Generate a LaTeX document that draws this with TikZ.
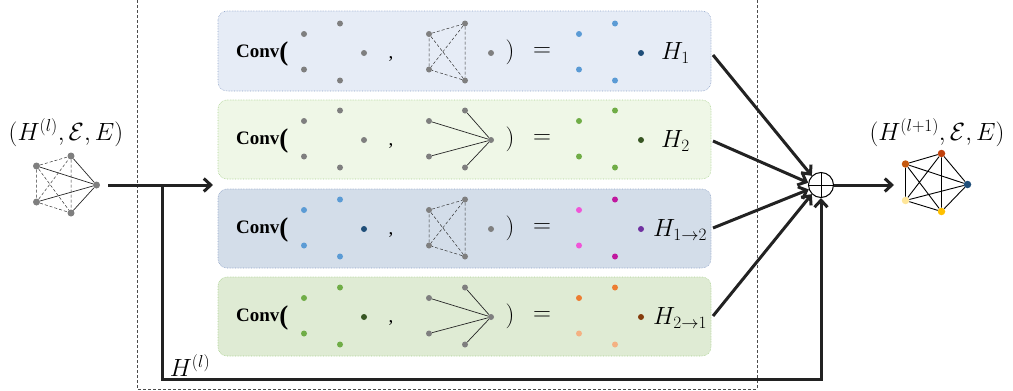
\documentclass[tikz,border=0pt]{standalone}
\usepackage{fontspec}
\usepackage{amsmath}
\newfontfamily\convfont{Liberation Serif}
\usetikzlibrary{arrows.meta,calc}
\definecolor{gdot}{HTML}{7F7F7F}
\definecolor{bdot}{HTML}{5B9BD5}
\definecolor{navy}{HTML}{1F4E79}
\definecolor{gr}{HTML}{70AD47}
\definecolor{dgr}{HTML}{375623}
\definecolor{pk}{HTML}{F055D8}
\definecolor{mg}{HTML}{C0189F}
\definecolor{pu}{HTML}{7030A0}
\definecolor{orr}{HTML}{ED7D31}
\definecolor{lor}{HTML}{F4B183}
\definecolor{br}{HTML}{843C0C}
\definecolor{fillA}{HTML}{E6ECF6}
\definecolor{fillB}{HTML}{EFF7E7}
\definecolor{fillC}{HTML}{D3DDE9}
\definecolor{fillD}{HTML}{DFEBD4}
\definecolor{edgeA}{HTML}{8FA3C8}
\definecolor{edgeB}{HTML}{A9D18E}
\definecolor{lc}{HTML}{222222}
\definecolor{oc1}{HTML}{C55A11}
\definecolor{oc2}{HTML}{C0410C}
\definecolor{oc4}{HTML}{FFC000}
\definecolor{oc5}{HTML}{FFE699}
\tikzset{
  dotn/.style={circle,fill=#1,inner sep=0pt,minimum size=6pt},
  gnode/.style={circle,fill=gdot,inner sep=0pt,minimum size=7pt},
  cnode/.style={circle,fill=#1,inner sep=0pt,minimum size=7.5pt},
  panel/.style={draw=#1,densely dotted,rounded corners=9pt,line width=0.6pt},
  flow/.style={draw=lc,line width=3pt,-{Straight Barb[length=7pt,width=13pt,line width=3pt]}},
  flowplain/.style={draw=lc,line width=3pt},
  conv/.style={inner sep=0pt,font=\convfont\bfseries\fontsize{19}{22}\selectfont},
  mtxt/.style={inner sep=0pt,font=\fontsize{24}{28}\selectfont},
  btxt/.style={inner sep=0pt,font=\fontsize{28}{30}\selectfont},
  ltxt/.style={inner sep=0pt,font=\fontsize{25}{28}\selectfont},
}
\begin{document}
\begin{tikzpicture}[x=1pt,y=-1pt]
\useasboundingbox (0,0) rectangle (1013,391);
% outer dashed frame
\draw[densely dashed,line width=0.5pt,black!70] (137,-5) rectangle (757,389);

% panels
\path[panel=edgeA,fill=fillA] (218,11) rectangle (711,91);
\path[panel=edgeB,fill=fillB] (218,100) rectangle (711,179);
\path[panel=edgeA,fill=fillC] (218,189) rectangle (711,268);
\path[panel=edgeB,fill=fillD] (218,277) rectangle (711,356);

\foreach \r/\yc/\lc/\cc/\ta/\tb/\ba/\bb/\hc in {
  A/52/gdot/gdot/bdot/bdot/bdot/bdot/navy,
  B/139/gdot/gdot/gr/gr/gr/gr/dgr,
  C/228/bdot/navy/pk/mg/pk/mg/pu,
  D/316/gr/dgr/orr/orr/lor/lor/br}{
  \node[conv,anchor=west] (conv\r) at (236,\yc+2) {Conv\raisebox{-2.5pt}{\fontsize{27}{28}\selectfont(}};
  \node[dotn=\lc] (l1\r) at (304,\yc-18) {};
  \node[dotn=\lc] (l2\r) at (340,\yc-28.5) {};
  \node[dotn=\lc] (l3\r) at (304,\yc+17.5) {};
  \node[dotn=\lc] (l4\r) at (340,\yc+28.5) {};
  \node[dotn=\cc] (l5\r) at (364,\yc+1) {};
  \node[conv,font=\convfont\fontsize{19}{22}\selectfont] (comma\r) at (391,\yc+7) {,};
  \node[dotn=gdot] (g1\r) at (429,\yc-18) {};
  \node[dotn=gdot] (g2\r) at (465,\yc-28.5) {};
  \node[dotn=gdot] (g3\r) at (429,\yc+17.5) {};
  \node[dotn=gdot] (g4\r) at (465,\yc+28.5) {};
  \node[dotn=gdot] (g5\r) at (491,\yc+1) {};
  \node[btxt] (rp\r) at (510,\yc) {$)$};
  \node[btxt] (eq\r) at (542,\yc) {$=$};
  \node[dotn=\ta] (r1\r) at (579,\yc-18) {};
  \node[dotn=\tb] (r2\r) at (615,\yc-28.5) {};
  \node[dotn=\ba] (r3\r) at (579,\yc+17.5) {};
  \node[dotn=\bb] (r4\r) at (615,\yc+28.5) {};
  \node[dotn=\hc] (r5\r) at (641,\yc+1) {};
}
% K4 dashed graphs (rows A and C)
\foreach \r in {A,C}{
  \draw[densely dashed,line width=0.5pt,black!80] (g1\r)--(g2\r)--(g4\r)--(g3\r)--(g1\r)--(g4\r) (g2\r)--(g3\r);
}
% star graphs (rows B and D)
\foreach \r in {B,D}{
  \draw[line width=0.7pt,black!85] (g1\r)--(g5\r) (g2\r)--(g5\r) (g3\r)--(g5\r) (g4\r)--(g5\r);
}
% labels
\node[ltxt,anchor=west] (hA) at (661,53) {$H_1$};
\node[ltxt,anchor=west] (hB) at (661,141) {$H_2$};
\node[ltxt,anchor=west] (hC) at (653,230) {$H_{1\rightarrow 2}$};
\node[ltxt,anchor=west] (hD) at (653,318) {$H_{2\rightarrow 1}$};

% input graph
\node[mtxt] (inlab) at (66,133) {$(H^{(l)},\mathcal{E},E)$};
\node[gnode] (i1) at (36.5,166) {};
\node[gnode] (i2) at (71,156) {};
\node[gnode] (i3) at (96.5,185) {};
\node[gnode] (i4) at (36.5,202) {};
\node[gnode] (i5) at (71,213) {};
\draw[densely dashed,line width=0.5pt,black!80] (i1)--(i2) (i1)--(i4) (i4)--(i5) (i2)--(i5) (i1)--(i5) (i4)--(i2);
\draw[line width=0.7pt,black!85] (i3)--(i1) (i3)--(i2) (i3)--(i4) (i3)--(i5);

% sum node
\node[circle,draw=black,line width=1pt,minimum size=25pt,inner sep=0pt] (sum) at (821,185) {};
\draw[line width=1pt] (sum.north)--(sum.south) (sum.west)--(sum.east);

% input arrow and feedback
\coordinate (inS) at (108,185);
\coordinate (inE) at (213,185);
\coordinate (fb) at (162,185);
\coordinate (fbB) at (162,379);
\coordinate (fbC) at (821,379);
\draw[flow] (inS)--(inE);
\draw[flowplain,line join=miter] (fb)--(fbB)--(fbC)--(821,300);
\draw[flow] (821,300)--(sum.south);
\node[mtxt] (fblab) at (190,366) {$H^{(l)}$};

% panel outputs
\coordinate (oA) at (713,55);
\coordinate (oB) at (713,141);
\coordinate (oC) at (713,228);
\coordinate (oD) at (713,316);
\draw[flow] (oA)--(sum.north west);
\draw[flow] (oB)--(sum.170);
\draw[flow] (oC)--(sum.200);
\draw[flow] (oD)--(sum.south west);

% output graph
\node[mtxt] (outlab) at (937,133) {$(H^{(l+1)},\mathcal{E},E)$};
\node[cnode=oc1] (o1) at (905.5,164) {};
\node[cnode=oc2] (o2) at (941.5,153.5) {};
\node[cnode=navy] (o3) at (967.5,184.5) {};
\node[cnode=oc4] (o4) at (941.5,211.5) {};
\node[cnode=oc5] (o5) at (905.5,200.5) {};
\draw[line width=0.9pt,black] (o1)--(o2)--(o3)--(o4)--(o5)--(o1) (o1)--(o3)--(o5)--(o2)--(o4)--(o1);
\draw[flow] (sum.east)--(894,185);
\end{tikzpicture}
\end{document}
